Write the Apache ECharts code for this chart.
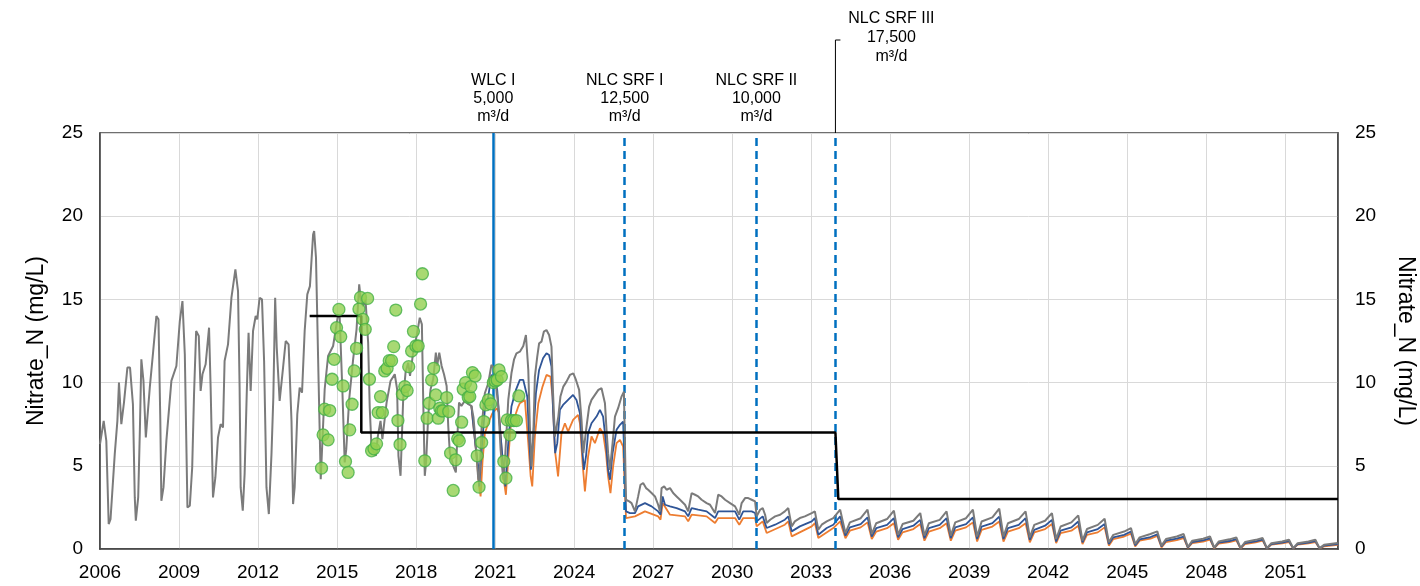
<!DOCTYPE html>
<html>
<head>
<meta charset="utf-8">
<script src="https://cdn.jsdelivr.net/npm/echarts@6/dist/echarts.min.js"></script>
<style>
html,body{margin:0;padding:0;background:#fff;}
#chart{width:1420px;height:586px;}
</style>
</head>
<body>
<div id="chart"></div>
<script>
// ---------------- DATA ----------------
const BASE_YEAR = 2006;
const xTickStep = 3;
const yTicks = [0, 5, 10, 15, 20, 25];
const axisTitle = 'Nitrate_N (mg/L)';

// events (vertical lines)
const eventYears = [2020.93, 2025.92, 2030.92, 2033.92];
const eventLabels = ['WLC I\n5,000\nm³/d', 'NLC SRF I\n12,500\nm³/d', 'NLC SRF II\n10,000\nm³/d', 'NLC SRF III\n17,500\nm³/d'];

// threshold step line [year, value]
const thresholdPts = [[2013.96,14],[2015.92,14],[2015.92,7],[2033.92,7],[2034.03,3],[2053,3]];

// historical simulated (all scenarios identical) [year, value]
const grayHist = [[2006.0,6.3],[2006.14,7.7],[2006.24,6.5],[2006.33,1.5],[2006.4,1.8],[2006.56,5.7],[2006.66,7.7],[2006.72,10.0],[2006.81,7.5],[2006.91,8.8],[2007.04,10.9],[2007.14,10.9],[2007.25,8.7],[2007.32,3.1],[2007.36,1.7],[2007.45,3.1],[2007.51,6.9],[2007.57,11.4],[2007.65,10.1],[2007.74,6.7],[2007.89,9.7],[2008.02,11.9],[2008.14,14.0],[2008.22,13.8],[2008.29,7.7],[2008.33,2.9],[2008.41,3.7],[2008.52,6.5],[2008.71,10.1],[2008.9,11.0],[2009.03,13.7],[2009.13,14.9],[2009.22,11.7],[2009.32,2.5],[2009.41,2.6],[2009.5,4.9],[2009.57,9.3],[2009.65,13.1],[2009.75,12.8],[2009.82,9.5],[2009.89,10.5],[2010.01,11.1],[2010.14,13.3],[2010.2,9.7],[2010.29,3.1],[2010.38,4.3],[2010.48,6.7],[2010.58,7.5],[2010.67,7.3],[2010.73,11.3],[2010.86,12.3],[2010.99,15.1],[2011.14,16.8],[2011.24,15.5],[2011.3,9.7],[2011.34,3.7],[2011.42,2.3],[2011.49,4.5],[2011.57,9.3],[2011.64,13.0],[2011.72,9.5],[2011.81,13.1],[2011.91,14.0],[2011.97,13.8],[2012.06,15.1],[2012.15,15.0],[2012.23,11.3],[2012.32,3.7],[2012.41,2.1],[2012.51,5.7],[2012.58,9.1],[2012.65,15.1],[2012.71,12.1],[2012.82,8.9],[2012.95,10.9],[2013.05,12.5],[2013.16,12.3],[2013.27,7.7],[2013.33,2.7],[2013.39,3.7],[2013.49,8.1],[2013.58,9.7],[2013.67,9.4],[2013.77,13.1],[2013.87,15.3],[2013.97,15.8],[2014.09,18.9],[2014.13,19.1],[2014.2,17.5],[2014.3,10.0],[2014.38,4.2],[2014.53,9.6],[2014.66,11.6],[2014.85,12.2],[2015.04,14.1],[2015.1,13.9],[2015.2,9.6],[2015.29,5.2],[2015.35,6.0],[2015.46,9.0],[2015.61,11.4],[2015.74,13.2],[2015.84,15.9],[2015.9,15.0],[2015.99,14.6],[2016.08,15.0],[2016.18,12.4],[2016.24,8.5],[2016.31,6.0],[2016.4,5.8],[2016.47,5.6],[2016.55,6.8],[2016.65,7.7],[2016.72,6.6],[2016.88,8.8],[2017.03,10.1],[2017.19,10.5],[2017.28,9.6],[2017.33,5.6],[2017.41,4.4],[2017.51,9.0],[2017.6,10.6],[2017.7,11.2],[2017.77,10.4],[2017.89,11.8],[2018.02,12.8],[2018.14,13.9],[2018.22,13.5],[2018.27,9.0],[2018.33,4.4],[2018.38,5.2],[2018.46,8.0],[2018.55,9.6],[2018.65,10.2],[2018.75,11.8],[2018.8,11.0],[2018.88,11.8],[2018.97,11.0],[2019.06,10.5],[2019.16,9.8],[2019.22,7.4],[2019.28,5.8],[2019.41,5.0],[2019.51,4.6],[2019.56,6.5],[2019.63,8.8],[2019.72,8.6],[2019.85,8.9],[2019.98,8.7],[2020.1,8.6],[2020.18,7.9],[2020.27,6.2],[2020.36,4.2],[2020.4,4.0]];

// scenario lines 2020-2034 [year, value]
const grayMid = [[2020.49,7.36],[2020.61,9.36],[2020.74,9.96],[2020.86,11.06],[2020.95,10.9],[2021.03,9.96],[2021.12,8.56],[2021.21,5.96],[2021.31,4.16],[2021.38,5.5],[2021.5,8.96],[2021.62,10.56],[2021.72,11.4],[2021.81,11.76],[2021.94,11.86],[2022.07,12.2],[2022.17,12.86],[2022.26,10.76],[2022.32,7.36],[2022.38,4.96],[2022.45,6.76],[2022.51,10.36],[2022.6,11.56],[2022.67,12.36],[2022.76,12.46],[2022.85,13.06],[2022.95,13.16],[2023.05,12.86],[2023.14,12.16],[2023.2,9.36],[2023.27,6.76],[2023.33,6.76],[2023.4,7.96],[2023.48,9.16],[2023.59,9.76],[2023.71,10.06],[2023.84,10.46],[2023.97,10.56],[2024.07,10.16],[2024.19,9.56],[2024.28,7.76],[2024.35,5.76],[2024.41,5.76],[2024.47,7.36],[2024.57,8.56],[2024.66,8.96],[2024.79,9.26],[2024.92,9.56],[2025.04,9.66],[2025.17,8.76],[2025.23,7.16],[2025.29,5.76],[2025.36,4.76],[2025.46,6.36],[2025.55,7.96],[2025.67,8.46],[2025.8,9.16],[2025.89,9.46],[2025.97,2.96],[2026.09,2.86],[2026.18,2.76],[2026.31,2.26],[2026.43,3.16],[2026.52,3.86],[2026.62,3.96],[2026.73,3.66],[2026.81,3.56],[2026.94,3.36],[2027.07,3.16],[2027.19,2.66],[2027.26,2.26],[2027.32,3.66],[2027.42,3.76],[2027.51,3.56],[2027.64,3.66],[2027.76,3.36],[2027.89,3.16],[2028.02,2.96],[2028.21,2.66],[2028.33,2.26],[2028.46,3.36],[2028.59,3.26],[2028.71,3.16],[2028.84,2.96],[2029.03,2.76],[2029.16,2.66],[2029.35,2.16],[2029.47,3.26],[2029.6,3.16],[2029.73,2.96],[2029.92,2.76],[2030.11,2.56],[2030.27,2.06],[2030.36,2.76],[2030.49,3.06],[2030.61,3.06],[2030.74,2.96],[2030.87,2.86],[2030.93,1.96],[2031.06,2.36],[2031.16,2.46],[2031.25,2.06],[2031.31,1.56],[2031.44,1.76],[2031.63,1.96],[2031.82,2.06],[2032.0,2.26],[2032.13,2.46],[2032.26,1.36],[2032.38,1.66],[2032.57,1.86],[2032.76,1.96],[2033.02,2.16],[2033.14,2.26],[2033.27,1.16],[2033.4,1.46],[2033.59,1.66],[2033.84,1.86],[2034.1,2.36]];

const blueMid = [[2020.1,8.6],[2020.27,6.0],[2020.36,4.96],[2020.4,3.76],[2020.5,6.2],[2020.61,8.36],[2020.74,9.16],[2020.86,10.46],[2020.97,10.3],[2021.08,9.56],[2021.2,6.96],[2021.31,4.96],[2021.39,3.76],[2021.5,6.4],[2021.62,8.56],[2021.79,9.56],[2021.94,10.16],[2022.07,10.16],[2022.22,9.16],[2022.29,6.76],[2022.36,4.76],[2022.45,6.76],[2022.55,9.36],[2022.67,10.76],[2022.82,11.46],[2022.95,11.76],[2023.05,11.66],[2023.14,10.96],[2023.2,8.36],[2023.28,5.76],[2023.36,6.36],[2023.46,8.36],[2023.58,8.66],[2023.77,8.96],[2023.96,9.26],[2024.09,8.96],[2024.22,8.16],[2024.29,6.36],[2024.37,4.76],[2024.45,5.56],[2024.53,6.96],[2024.66,7.56],[2024.85,7.96],[2024.98,8.36],[2025.1,7.96],[2025.21,6.36],[2025.29,4.76],[2025.36,4.16],[2025.46,5.76],[2025.61,7.16],[2025.74,7.46],[2025.86,7.66],[2025.92,7.56],[2025.97,2.26],[2026.12,2.16],[2026.31,2.16],[2026.43,2.56],[2026.69,2.76],[2026.94,2.56],[2027.19,2.26],[2027.28,2.06],[2027.36,3.16],[2027.45,2.66],[2027.64,2.56],[2027.89,2.46],[2028.21,2.26],[2028.33,1.96],[2028.46,2.46],[2028.71,2.36],[2029.03,2.26],[2029.35,1.86],[2029.47,2.26],[2029.73,2.26],[2030.11,2.26],[2030.27,1.76],[2030.42,2.26],[2030.74,2.26],[2030.87,2.16],[2030.93,1.66],[2031.16,1.96],[2031.31,1.26],[2031.63,1.46],[2032.0,1.76],[2032.13,1.96],[2032.26,1.06],[2032.57,1.36],[2033.02,1.66],[2033.14,1.86],[2033.27,0.86],[2033.59,1.26],[2033.84,1.46],[2034.1,1.96]];

const orangeMid = [[2020.1,8.6],[2020.15,7.76],[2020.3,5.56],[2020.39,3.76],[2020.45,3.16],[2020.52,5.2],[2020.61,6.96],[2020.74,7.56],[2020.9,8.16],[2021.06,8.46],[2021.15,8.2],[2021.25,5.96],[2021.33,4.16],[2021.41,3.26],[2021.5,5.4],[2021.59,7.36],[2021.75,7.96],[2021.88,8.56],[2021.94,8.76],[2022.13,8.96],[2022.26,6.36],[2022.35,4.36],[2022.41,3.76],[2022.51,6.76],[2022.64,8.76],[2022.8,9.76],[2022.95,10.46],[2023.1,10.36],[2023.18,9.16],[2023.27,5.96],[2023.39,4.36],[2023.52,6.96],[2023.65,7.56],[2023.77,7.06],[2023.96,7.76],[2024.15,8.06],[2024.22,7.56],[2024.32,5.16],[2024.41,3.46],[2024.53,5.56],[2024.66,6.76],[2024.79,6.36],[2024.98,7.26],[2025.1,6.96],[2025.21,5.76],[2025.29,4.36],[2025.38,3.36],[2025.48,4.96],[2025.61,6.36],[2025.74,6.56],[2025.86,6.16],[2025.92,6.2],[2025.97,1.86],[2026.31,1.96],[2026.69,2.26],[2027.19,1.96],[2027.28,1.76],[2027.36,2.76],[2027.64,2.06],[2028.21,1.96],[2028.33,1.66],[2028.46,2.06],[2029.03,1.96],[2029.35,1.56],[2029.47,1.86],[2030.11,1.86],[2030.27,1.46],[2030.42,1.86],[2030.87,1.86],[2030.93,1.36],[2031.16,1.66],[2031.31,0.96],[2032.0,1.46],[2032.13,1.66],[2032.26,0.76],[2033.02,1.36],[2033.14,1.56],[2033.27,0.66],[2033.84,1.26],[2034.1,1.66]];

// scenario lines 2034-2053: common times, separate values
const projTimes = [2034.3,2034.47,2034.88,2035.14, 2035.3,2035.47,2035.88,2036.14, 2036.3,2036.47,2036.88,2037.14, 2037.3,2037.47,2037.88,2038.14, 2038.3,2038.47,2038.88,2039.14, 2039.3,2039.47,2039.88,2040.14, 2040.3,2040.47,2040.88,2041.14, 2041.3,2041.47,2041.88,2042.14, 2042.3,2042.47,2042.88,2043.14, 2043.3,2043.47,2043.88,2044.14, 2044.3,2044.47,2044.88,2045.14, 2045.3,2045.47,2045.88,2046.14, 2046.3,2046.47,2046.88,2047.14, 2047.3,2047.47,2047.88,2048.14, 2048.3,2048.47,2048.88,2049.14, 2049.3,2049.47,2049.88,2050.14, 2050.3,2050.47,2050.88,2051.14, 2051.3,2051.47,2051.88,2052.14, 2052.3,2052.47,2052.99];
const grayProj = [0.95,1.6,1.85,2.36, 0.9,1.55,1.8,2.3, 0.85,1.5,1.7,2.16, 0.8,1.55,1.75,2.26, 0.8,1.6,1.85,2.36, 0.75,1.65,1.9,2.42, 0.75,1.55,1.8,2.26, 0.7,1.45,1.7,2.16, 0.6,1.35,1.6,2.02, 0.5,1.2,1.45,1.82, 0.4,0.85,1.05,1.26, 0.3,0.7,0.9,1.06, 0.2,0.6,0.75,0.9, 0.12,0.5,0.62,0.76, 0.08,0.45,0.58,0.7, 0.06,0.42,0.55,0.66, 0.05,0.35,0.45,0.56, 0.05,0.35,0.45,0.56, 0.05,0.25,0.36];
const blueProj = [0.8,1.3,1.5,1.9, 0.75,1.25,1.45,1.85, 0.7,1.2,1.4,1.75, 0.65,1.25,1.45,1.85, 0.65,1.3,1.5,1.9, 0.6,1.35,1.55,1.95, 0.6,1.25,1.45,1.85, 0.55,1.15,1.4,1.75, 0.45,1.1,1.3,1.65, 0.4,1.0,1.2,1.5, 0.3,0.7,0.85,1.05, 0.22,0.58,0.72,0.88, 0.15,0.5,0.62,0.75, 0.1,0.42,0.52,0.64, 0.06,0.38,0.48,0.6, 0.05,0.36,0.46,0.56, 0.04,0.3,0.38,0.48, 0.04,0.3,0.38,0.48, 0.04,0.2,0.3];
const orangeProj = [0.65,1.1,1.3,1.6, 0.6,1.05,1.25,1.55, 0.55,1.0,1.2,1.5, 0.5,1.05,1.25,1.55, 0.5,1.1,1.3,1.6, 0.45,1.15,1.35,1.65, 0.45,1.05,1.25,1.55, 0.4,1.0,1.2,1.5, 0.35,0.95,1.1,1.4, 0.3,0.85,1.0,1.3, 0.2,0.6,0.75,0.92, 0.15,0.5,0.62,0.78, 0.1,0.42,0.54,0.66, 0.06,0.36,0.45,0.56, 0.04,0.32,0.42,0.52, 0.03,0.3,0.4,0.5, 0.03,0.26,0.34,0.42, 0.03,0.26,0.34,0.42, 0.03,0.16,0.25];

// observed samples [year, value]
const observed = [[2014.41,4.86],[2014.47,6.86],[2014.66,6.56],[2014.53,8.4],[2014.72,8.32],[2014.81,10.2],[2014.89,11.4],[2014.98,13.3],[2015.07,14.4],[2015.14,12.76],[2015.23,9.8],[2015.32,5.26],[2015.42,4.6],[2015.48,7.16],[2015.57,8.7],[2015.65,10.7],[2015.74,12.06],[2015.83,14.42],[2015.89,15.12],[2015.98,13.8],[2016.07,13.2],[2016.16,15.06],[2016.23,10.2],[2016.31,5.9],[2016.4,6.02],[2016.5,6.32],[2016.56,8.2],[2016.72,8.2],[2016.65,9.16],[2016.81,10.7],[2016.9,10.86],[2016.98,11.32],[2017.07,11.32],[2017.15,12.16],[2017.23,14.36],[2017.31,7.72],[2017.39,6.28],[2017.48,9.3],[2017.57,9.76],[2017.66,9.52],[2017.72,10.96],[2017.83,11.9],[2017.9,13.08],[2017.99,12.2],[2018.08,12.2],[2018.17,14.72],[2018.24,16.54],[2018.33,5.3],[2018.42,7.86],[2018.5,8.76],[2018.59,10.16],[2018.67,10.86],[2018.75,9.26],[2018.84,7.86],[2018.9,8.46],[2018.96,8.3],[2019.02,8.3],[2019.16,9.1],[2019.24,8.26],[2019.31,5.76],[2019.41,3.52],[2019.5,5.36],[2019.58,6.62],[2019.64,6.5],[2019.73,7.62],[2019.79,9.6],[2019.88,10.0],[2019.98,9.12],[2020.04,9.16],[2020.08,9.76],[2020.14,10.6],[2020.24,10.4],[2020.32,5.6],[2020.39,3.72],[2020.49,6.4],[2020.57,7.66],[2020.65,8.66],[2020.74,8.96],[2020.83,8.72],[2020.93,10.0],[2021.0,10.1],[2021.08,10.16],[2021.15,10.76],[2021.24,10.36],[2021.33,5.26],[2021.41,4.26],[2021.46,7.76],[2021.56,6.86],[2021.62,7.72],[2021.71,7.72],[2021.81,7.72],[2021.9,9.2]];

// ---------------- BUILD ----------------
const toX = p => [p[0] - BASE_YEAR, p[1]];
const proj = vals => projTimes.map((t, i) => [t - BASE_YEAR, vals[i]]);
const FONT = '"Liberation Sans", Arial, sans-serif';
const AXIS_COLOR = '#404040';
const xMax = 2053 - BASE_YEAR;

const markData = eventYears.map((yr, i) => {
  const item = {
    xAxis: yr - BASE_YEAR,
    lineStyle: { color: '#0070C0', width: 2.5, type: i === 0 ? 'solid' : [8, 5] },
    label: { formatter: eventLabels[i] }
  };
  if (i === 3) item.label = { formatter: eventLabels[i], distance: 67, offset: [56, 0], lineHeight: 19 };
  return item;
});

const chart = echarts.init(document.getElementById('chart'), null, { renderer: 'canvas' });
const option = {
  animation: false,
  backgroundColor: '#fff',
  grid: { left: 100, right: 82, top: 133, bottom: 37, containLabel: false, outerBoundsMode: 'none',
    show: true, borderColor: AXIS_COLOR, borderWidth: 1.5, backgroundColor: 'transparent' },
  xAxis: {
    type: 'value', min: 0, max: xMax, interval: xTickStep,
    axisLine: { show: true, onZero: false, lineStyle: { color: AXIS_COLOR, width: 1.5 } },
    axisTick: { show: false },
    splitLine: { show: true, lineStyle: { color: '#d9d9d9', width: 1 } },
    axisLabel: { show: true, margin: 14, fontSize: 19, color: '#000', fontFamily: FONT, showMaxLabel: false,
      formatter: v => String(BASE_YEAR + v) }
  },
  yAxis: [
    { type: 'value', min: yTicks[0], max: yTicks[yTicks.length - 1], interval: yTicks[1] - yTicks[0], position: 'left',
      name: axisTitle, nameLocation: 'middle', nameGap: 52,
      nameTextStyle: { fontSize: 23, color: '#000', fontFamily: FONT },
      axisLine: { show: true, lineStyle: { color: AXIS_COLOR, width: 1.5 } },
      axisTick: { show: false },
      splitLine: { show: true, lineStyle: { color: '#d9d9d9', width: 1 } },
      axisLabel: { margin: 17, fontSize: 19, color: '#000', fontFamily: FONT } },
    { type: 'value', min: yTicks[0], max: yTicks[yTicks.length - 1], interval: yTicks[1] - yTicks[0], position: 'right',
      name: axisTitle, nameLocation: 'middle', nameGap: 56, nameRotate: -90,
      nameTextStyle: { fontSize: 23, color: '#000', fontFamily: FONT },
      axisLine: { show: true, lineStyle: { color: AXIS_COLOR, width: 1.5 } },
      axisTick: { show: false },
      splitLine: { show: false },
      axisLabel: { margin: 17, fontSize: 19, color: '#000', fontFamily: FONT } }
  ],
  series: [
    { name: 'orange', type: 'line', data: orangeMid.map(toX).concat(proj(orangeProj)), showSymbol: false, symbol: 'none',
      lineStyle: { color: '#ED7D31', width: 1.8 }, z: 3 },
    { name: 'blue', type: 'line', data: blueMid.map(toX).concat(proj(blueProj)), showSymbol: false, symbol: 'none',
      lineStyle: { color: '#2F5597', width: 1.8 }, z: 4 },
    { name: 'gray', type: 'line', data: grayHist.map(toX).concat(grayMid.map(toX)).concat(proj(grayProj)), showSymbol: false, symbol: 'none',
      lineStyle: { color: '#7b7b7b', width: 2 }, z: 5 },
    { name: 'threshold', type: 'line', data: thresholdPts.map(toX), showSymbol: false, symbol: 'none',
      lineStyle: { color: '#000', width: 2.5 }, z: 6,
      markLine: {
        silent: true, symbol: ['none', 'none'], animation: false,
        label: { show: true, position: 'end', distance: 7, color: '#000', fontSize: 16, lineHeight: 18, fontFamily: FONT, align: 'center' },
        data: markData
      } },
    { name: 'observed', type: 'scatter', data: observed.map(toX), symbol: 'circle', symbolSize: 12,
      itemStyle: { color: '#92D050', borderColor: '#44B046', borderWidth: 1.3 }, z: 8 }
  ]
};
chart.setOption(option);

// leader line for the last event label (positions from the axis scales)
const topPt = chart.convertToPixel({ gridIndex: 0 }, [eventYears[3] - BASE_YEAR, yTicks[yTicks.length - 1]]);
chart.setOption({
  graphic: [{
    type: 'polyline', silent: true, z: 10,
    shape: { points: [[topPt[0], topPt[1]], [topPt[0], topPt[1] - 93], [topPt[0] + 5, topPt[1] - 93]] },
    style: { stroke: '#000', lineWidth: 1, fill: null }
  }]
});
</script>
</body>
</html>
